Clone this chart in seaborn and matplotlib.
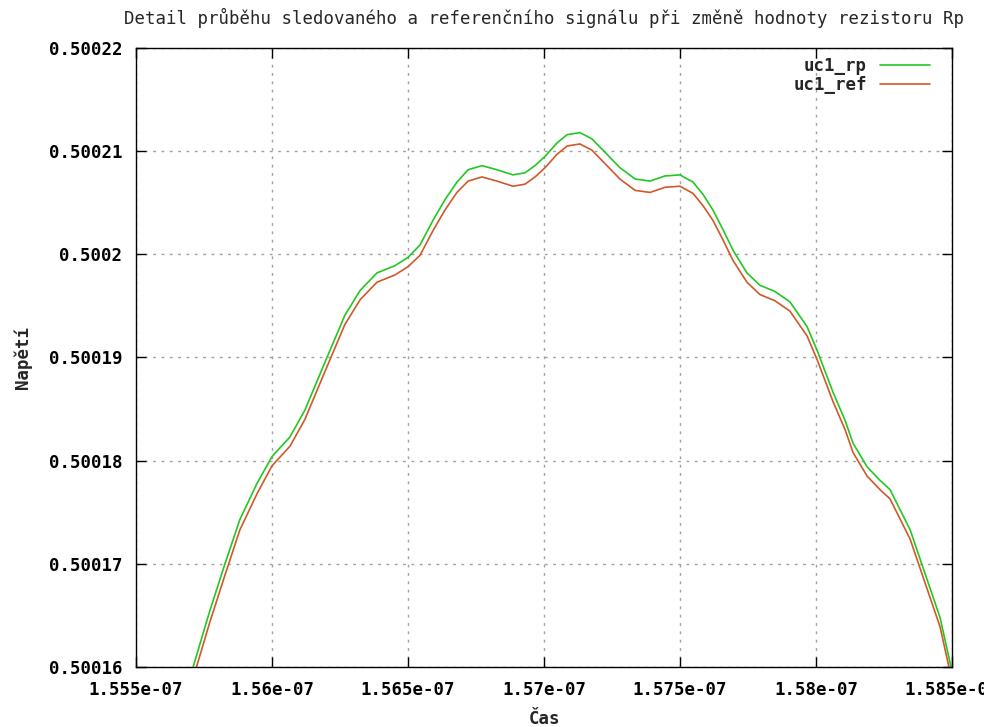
import numpy as np
import pandas as pd
import matplotlib
matplotlib.use("Agg")
import matplotlib.pyplot as plt
import seaborn as sns
from matplotlib.ticker import FixedLocator
from matplotlib.lines import Line2D

# ---- data (time in ns, voltage in V) ----
time_ns = [155.691, 155.710, 155.772, 155.827, 155.882, 155.945, 156.000, 156.066,
           156.121, 156.202, 156.268, 156.324, 156.386, 156.452, 156.500, 156.544,
           156.592, 156.636, 156.680, 156.721, 156.772, 156.827, 156.886, 156.930,
           156.967, 157.004, 157.048, 157.085, 157.132, 157.176, 157.224, 157.279,
           157.335, 157.390, 157.445, 157.500, 157.548, 157.585, 157.621, 157.658,
           157.695, 157.746, 157.794, 157.849, 157.904, 157.967, 158.004, 158.063,
           158.107, 158.136, 158.188, 158.235, 158.272, 158.346, 158.390, 158.456,
           158.493, 158.515]

uc1_rp = [0.5001578, 0.5001600, 0.5001655, 0.5001700, 0.5001743, 0.5001778, 0.5001804, 0.5001823,
          0.5001849, 0.5001900, 0.5001941, 0.5001965, 0.5001982, 0.5001989, 0.5001997, 0.5002009,
          0.5002033, 0.5002053, 0.5002070, 0.5002082, 0.5002086, 0.5002082, 0.5002077, 0.5002079,
          0.5002086, 0.5002095, 0.5002108, 0.5002116, 0.5002118, 0.5002112, 0.5002099, 0.5002084,
          0.5002073, 0.5002071, 0.5002076, 0.5002077, 0.5002070, 0.5002058, 0.5002043, 0.5002024,
          0.5002004, 0.5001982, 0.5001970, 0.5001964, 0.5001954, 0.5001930, 0.5001907, 0.5001866,
          0.5001839, 0.5001817, 0.5001794, 0.5001781, 0.5001772, 0.5001733, 0.5001699, 0.5001648,
          0.5001604, 0.5001578]

uc1_ref = [0.5001567, 0.5001589, 0.5001644, 0.5001689, 0.5001733, 0.5001768, 0.5001795, 0.5001814,
           0.5001840, 0.5001891, 0.5001932, 0.5001956, 0.5001973, 0.5001980, 0.5001988, 0.5001999,
           0.5002023, 0.5002043, 0.5002060, 0.5002071, 0.5002075, 0.5002071, 0.5002066, 0.5002068,
           0.5002075, 0.5002084, 0.5002097, 0.5002105, 0.5002107, 0.5002101, 0.5002088, 0.5002073,
           0.5002062, 0.5002060, 0.5002065, 0.5002066, 0.5002059, 0.5002047, 0.5002033, 0.5002014,
           0.5001994, 0.5001973, 0.5001961, 0.5001955, 0.5001945, 0.5001921, 0.5001898, 0.5001857,
           0.5001830, 0.5001808, 0.5001785, 0.5001772, 0.5001763, 0.5001724, 0.5001690, 0.5001639,
           0.5001595, 0.5001567]

x_ticks_ns = [155.5, 156.0, 156.5, 157.0, 157.5, 158.0, 158.5]
x_tick_labels = ["1.555e-07", "1.56e-07", "1.565e-07", "1.57e-07", "1.575e-07", "1.58e-07", "1.585e-07"]
y_ticks = [0.50016, 0.50017, 0.50018, 0.50019, 0.50020, 0.50021, 0.50022]
y_tick_labels = ["0.50016", "0.50017", "0.50018", "0.50019", "0.5002", "0.50021", "0.50022"]

title = "Detail průběhu sledovaného a referenčního signálu při změně hodnoty rezistoru Rp"

t_sec = [v * 1e-9 for v in time_ns]
df = pd.DataFrame({
    "Čas": t_sec * 2,
    "Napětí": uc1_rp + uc1_ref,
    "série": ["uc1_rp"] * len(t_sec) + ["uc1_ref"] * len(t_sec),
})

sns.set_theme(style="white")
plt.rcParams["font.family"] = ["DejaVu Sans Mono", "DejaVu Sans"]

fig = plt.figure(figsize=(9.84, 7.27), dpi=100)
ax = fig.add_axes([136 / 984, 1 - 667 / 727, (952 - 136) / 984, (667 - 48) / 727])

palette = {"uc1_rp": "#22c822", "uc1_ref": "#d0582a"}
sns.lineplot(data=df, x="Čas", y="Napětí", hue="série", palette=palette,
             linewidth=1.2, ax=ax, legend=False, estimator=None, sort=False)

ax.set_xlim(1.555e-7, 1.585e-7)
ax.set_ylim(0.50016, 0.50022)

ax.xaxis.set_major_locator(FixedLocator([v * 1e-9 for v in x_ticks_ns]))
ax.set_xticklabels(x_tick_labels)
ax.yaxis.set_major_locator(FixedLocator(y_ticks))
ax.set_yticklabels(y_tick_labels)

ax.grid(True, color="#a0a0a0", linestyle=(0, (2, 4)), linewidth=1.0)
for s in ax.spines.values():
    s.set_visible(True)
    s.set_color("black")
    s.set_linewidth(1.0)

ax.tick_params(direction="in", length=7, width=1, top=True, right=True,
               bottom=True, left=True, labelsize=12.5, colors="black")
ax.tick_params(axis="y", pad=10)
ax.tick_params(axis="x", pad=10)
for lab in ax.get_xticklabels() + ax.get_yticklabels():
    lab.set_fontweight("bold")

ax.set_xlabel("Čas", fontsize=12.5, fontweight="bold", labelpad=8)
ax.set_ylabel("Napětí", fontsize=12.5, fontweight="bold", labelpad=12)
ax.set_title(title, fontsize=12.5, pad=17)

handles = [Line2D([], [], color=palette["uc1_rp"], lw=1.2),
           Line2D([], [], color=palette["uc1_ref"], lw=1.2)]
leg = ax.legend(handles, ["uc1_rp", "uc1_ref"], loc="upper right",
                bbox_to_anchor=(0.9816, 0.9968), frameon=False,
                markerfirst=False, handlelength=2.9, handletextpad=0.75,
                prop={"weight": "bold", "size": 12.5}, borderaxespad=0.0,
                labelspacing=0.05)
leg._legend_box.align = "right"

fig.savefig("out.png", dpi=100)
